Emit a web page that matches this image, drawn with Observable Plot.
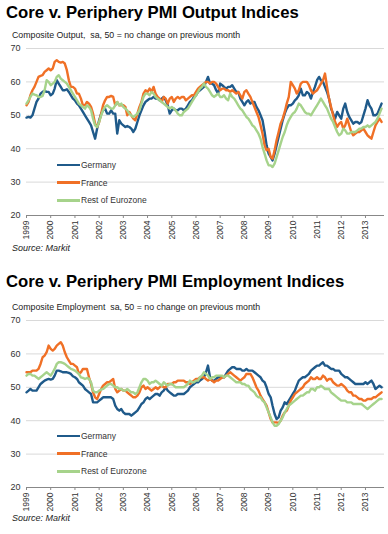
<!DOCTYPE html>
<html><head><meta charset="utf-8">
<script src="https://cdn.jsdelivr.net/npm/d3@7"></script>
<script src="https://cdn.jsdelivr.net/npm/@observablehq/plot@0.6"></script>
<style>
body{margin:0;background:#fff;font-family:"Liberation Sans",Arial,sans-serif;}
#page{position:relative;width:388px;height:534px;overflow:hidden;}
.title{position:absolute;left:6px;font-weight:bold;font-size:16.7px;line-height:16.7px;color:#000;white-space:nowrap;}
.sub{position:absolute;left:12px;font-size:8.8px;line-height:8.8px;color:#222;white-space:pre;}
.src{position:absolute;left:12px;font-size:9px;line-height:9px;font-style:italic;color:#222;white-space:nowrap;}
.chart{position:absolute;left:0;}
.leg{position:absolute;left:57px;height:10px;font-size:8.5px;color:#333;display:flex;align-items:center;white-space:nowrap;}
.leg span{display:inline-block;width:23px;height:2.5px;margin-right:1px;}
</style></head>
<body><div id="page"></div>
<script>
// ---- data (monthly, Jan 1999 – Sep 2013) ----
const seriesNames = ["Germany", "France", "Rest of Eurozone"];
const seriesColors = ["#1F5A8A", "#F07026", "#A6D38B"];
const yTicks = [20, 30, 40, 50, 60, 70];
const yearTicks = [1999,2000,2001,2002,2003,2004,2005,2006,2007,2008,2009,2010,2011,2012,2013];
const titles = ["Core v. Periphery PMI Output Indices", "Core v. Periphery PMI Employment Indices"];
const subtitles = ["Composite Output,  sa, 50 = no change on previous month", "Composite Employment  sa, 50 = no change on previous month"];
const sourceText = "Source: Markit";

const outputGermany = [
49.3,49.5,49.3,50,52,54,55,56.5,57,57.3,57,57,
56,56.5,58,60.5,59.5,58.5,57.5,57.5,57.8,57,56,55,
54.5,53.5,53,52,51,50,49,48,47,45,43,46,
48.5,50.5,51.5,52,50.5,50.5,51.5,50.5,50.5,44.5,48.5,47.5,
47,46.5,46.8,46.5,46,45,46,48,50,51.5,53,54,
54.5,55,55,55.5,55,55,54.5,55,55.5,54.5,53,50.5,
51.5,52,51.5,51.5,52,52,51.5,52,53,54,54.5,55.5,
56,57,57.5,58,58.5,60,61.5,59.5,59.5,59,57.5,56.5,
59.5,59,58.5,58,58.5,58.5,59,58,57,57,55,54,
53,54,54.5,53.5,54,54,52.5,51.5,50,48.5,45,41,
38.5,37.5,36.5,38.5,41,43.5,46,48.5,50.5,52,53,53,
53.5,54.5,55,56,58,56,56,57,56.5,55,57,58.5,
60.5,61.5,60.5,60,58.5,57,55,52,50.5,49,51,50,
49,52,53.5,51,49.5,48.5,47.5,48,48,47.5,48,50,
52,54.5,53,52,50,50,50.5,52,53.5];
const outputFrance = [
53,54,56,57.5,58.5,60,61.5,61.8,62,63,63.5,64,
63.5,64,66,66.5,66,65.8,66,65.5,63.5,60.5,58.5,58.5,
58,56.5,56.5,55,53,53,54,53.5,52.5,50.5,47.5,46.5,
48,50.5,53,54.5,55.5,55.5,55.8,55.5,53,54,53,53,
53,52.5,50,51,50,49,48.5,50.5,52.5,54,56.5,57.5,
57,58,57,58.5,56.5,55.5,55,54,55.5,55,53.5,55,
55.5,54,55,55.5,55,55.5,55.5,54.5,55,55.5,56,56,
57,58,58.5,59,59.5,60,60,59.5,60,60,59.5,58.5,
57.5,58,58,57.5,57.5,57,57.5,57,56.5,57,56,55,
57,57.5,56.5,55.5,54,52.5,51,49.5,47,44.5,41,39.5,
40,37.5,37,39.5,42.5,45,47.5,49,51,53.5,55.5,60,
59,58,56.5,57.5,59.5,60,60,60,59,57.5,56.5,57,
57.5,58.5,59.5,60.5,62.5,58.5,55,52.5,50,48,46.5,47.5,
48,46,47,49,47,45,44,44.5,45,45,45.5,46,
45,44,43.5,43,45,47,48,49,48];
const outputRest = [
53.5,54.5,55.5,56.5,56.2,56,55.5,55.5,55.8,57.5,60.5,60,
59,59.5,60,61.5,62,61,60.5,60,59.5,58.5,57.5,56.5,
55.5,54.5,53.5,53,52.5,52,53,52.5,51.5,49,47,46.5,
48,50,51.5,52.5,53,52.5,52,52,53,54,53,53.5,
52.5,52,51.5,50.5,50,49.5,50,50.5,51.5,53.5,55.5,56.5,
56.5,56,57,56.5,55.5,55,54.5,54,53.5,53,52.5,52,
52.5,52,51.5,50.5,50,50,51,51.5,52,53,54,55,
56,57,58,58.5,59.5,58.5,58,57,56,55.5,56,56.5,
55.5,55.5,56,55,54.5,56.5,55.5,55,54,53,52,51.5,
50.5,49.5,49,48,47,46.5,45.5,44.5,43,40.5,38.5,36.5,
35,35,34.5,35.5,37.5,39.5,41.5,43.5,45,47,48.5,49.5,
50.5,51,52,53.5,53,52,51,50.5,50.5,50,51,52,
53,54,55,54,53,52,50.5,49,48,46.5,45,44,
44.5,46,45.5,44.5,44.5,45,45,45,45.5,46,46,46.5,
46.5,47,46.5,47,47.5,48,49,50.5,52];

const employmentGermany = [
48.5,49,49.5,49,49,49,50,51,51.5,52,52.3,52.5,
52.3,52.5,53.5,55,55,54.8,54.5,54.5,54.5,54.3,54,53.3,
53,52.5,51.5,51,50.5,49.5,49,48.5,48,45.5,45.5,45.5,
46,46.5,47,47,47,47,47,46.5,44.5,43.5,43,43.5,
42.5,42,42,42,41.5,42,42.5,43,44,45,45.5,46.5,
47,46.5,47,47.5,48,48,47.5,48.5,49,50,49,48.5,
48,47.5,47.5,48,48,48,48,48.5,49,50,50.5,51,
51.5,51.5,52,52.5,53,54.5,56.5,53,52,52,52.5,53,
53,53,53,54,55,55.5,56,56,55.5,55.5,55.5,55,
55,55.5,55,55,55,54.5,54,53.5,53,52,51.5,50,
48,47,44.5,42,40.5,41,43,44,45.5,45,46,47,
48,49,50.5,52,52.5,53,53,53.5,54,55,55.5,56,
56.5,56.5,57,57.5,56.5,56.5,56,55.5,55.5,55,55,55,
54,53.5,53,53,52.5,52,51.5,51,51,51,51,51,
51.5,51,51.5,52,51,49.5,50,50.5,50];
const employmentFrance = [
54.5,54.5,54.5,55,55,55,55.5,57,59,59.5,60.5,62.5,
61.5,61,61.5,62.5,63,63.5,62.5,60.5,59,58,57,57,
56.5,56,54,54.5,55.5,55.5,55.5,53,51,48.5,47,46.5,
48,49.5,50.5,51,51.5,51.5,52,52.5,49.5,48.5,49,49.5,
49,49,48.5,48,47.5,47,47,47.5,48.5,50,50.5,49.5,
50,49.5,49,49.5,50,49.5,50,50.5,50,50,51,51,
51,51.5,51.5,52,52,52,52,51.5,51.5,51,51.5,52,
52.5,52.5,53,53,53,52.5,52,52.5,52,51.5,52,52,
52.5,53,53,53.5,54,54.5,54,53.5,53,52.5,52,52.5,
53,54,54,54,53,51.5,50,49,47.5,46.5,45.5,44.5,
42.5,40.5,39.5,39.5,39.5,39.3,40,41.5,42.5,43,44.5,46,
47,48,48.5,49,49.5,50,51,51.5,52,53,52.5,52.5,
53,52.5,52.5,53.5,53,52,52.5,52.5,51.5,51,50.5,50.5,
51,50.5,50,49,48.5,48.5,47.5,47.5,47,46.5,46.5,46,
46,46.5,46.5,46.5,47,47,47.5,48,48.5];
const employmentRest = [
53.5,54,54,53.5,53.5,53,52.5,53,53.5,54,54.5,54,
53.5,54.5,55.5,57,57.5,57.5,57.3,57,56.5,56,55.5,55.3,
55,54.5,54,53,52.8,52.5,52.8,52.5,51.5,49,48.5,48.5,
49,49.3,49.5,50,50.5,51,51,50.5,50,50,49.5,49.5,
49,49,49.5,49,48.5,48.5,48,48.5,50,51.5,52.5,52.5,
52,51,51.5,51.5,52,51.5,51,50.5,51.5,51,50.5,51,
51,50.5,50,50,50,50,50,50.5,51,52,51.5,51.5,
52,52,53,53.5,54.5,54,53.5,52.5,53,53,53.5,53.5,
53.5,53.5,53,53.5,53.5,53,52.5,52,51.5,51.5,51.5,51,
51,50.5,50.5,49.5,49,48.5,47.5,47,47,46,45.5,44,
42.5,41,39.5,38.5,38.5,39,40,41,42.5,43.5,44.5,45,
45.5,46,46.5,47,47.5,47.5,48,48.5,48.5,49.5,49.5,49,
50,50,50.5,50,49.5,49.5,49.5,48.5,48,47.5,47,46.5,
46,46,46,45.5,45.5,45.5,45,45,45,45,45,44.5,
44,43.5,44,44.5,45,45.5,46,46.5,46.5];

// ---- build ----
function makeRows(arrs) {
  return arrs.flatMap((a, k) => a.map((v, i) => ({date: new Date(Date.UTC(1999, i, 1)), value: v, series: seriesNames[k]})));
}
const xDomain = [new Date(Date.UTC(1999, 0, 1)), new Date(Date.UTC(2013, 9, 15))];
const yearDates = yearTicks.map(y => new Date(Date.UTC(y, 0, 1)));

function chart(arrs) {
  const rows = makeRows(arrs);
  return Plot.plot({
    width: 388, height: 207, marginTop: 10, marginBottom: 30, marginLeft: 26, marginRight: 4,
    style: {fontFamily: '"Liberation Sans", Arial, sans-serif', fontSize: "9px", color: "#333", background: "transparent", overflow: "visible"},
    x: {type: "utc", domain: xDomain},
    y: {domain: [20, 70]},
    color: {domain: seriesNames, range: seriesColors},
    marks: [
      Plot.ruleY(yTicks.filter(t => t > 20), {stroke: "#d9d9d9", strokeWidth: 1}),
      Plot.axisY(yTicks, {tickSize: 0, tickPadding: 6, label: null, fontSize: 9}),
      Plot.axisX(yearDates, {tickSize: 3, tickPadding: 2, tickRotate: -90, tickFormat: d3.utcFormat("%Y"), label: null, stroke: "#888", fontSize: 8.5}),
      Plot.ruleY([20], {stroke: "#888", strokeWidth: 1}),
      Plot.line(rows, {x: "date", y: "value", stroke: "series", z: "series", strokeWidth: 2.4, strokeLinejoin: "round"})
    ]
  });
}

const page = document.getElementById("page");
function addDiv(cls, top, text) {
  const d = document.createElement("div");
  d.className = cls; d.style.top = top + "px"; d.textContent = text;
  page.appendChild(d); return d;
}
function addLegend(centers) {
  seriesNames.forEach((n, i) => {
    const d = document.createElement("div");
    d.className = "leg"; d.style.top = (centers[i] - 5) + "px";
    const s = document.createElement("span"); s.style.background = seriesColors[i];
    d.appendChild(s); d.appendChild(document.createTextNode(n));
    page.appendChild(d);
  });
}

const c1 = chart([outputGermany, outputFrance, outputRest]);
c1.classList.add("chart"); c1.style.position = "absolute"; c1.style.top = "38.3px";
page.appendChild(c1);
const c2 = chart([employmentGermany, employmentFrance, employmentRest]);
c2.classList.add("chart"); c2.style.position = "absolute"; c2.style.top = "310px";
page.appendChild(c2);

addDiv("title", 4.5, titles[0]);
addDiv("sub", 30.9, subtitles[0]);
addDiv("src", 244.1, sourceText);
addLegend([165, 182.7, 200.3]);
addDiv("title", 274.2, titles[1]);
addDiv("sub", 302.6, subtitles[1]);
addDiv("src", 514.4, sourceText);
addLegend([436, 453.7, 471.3]);
</script>
</body></html>
